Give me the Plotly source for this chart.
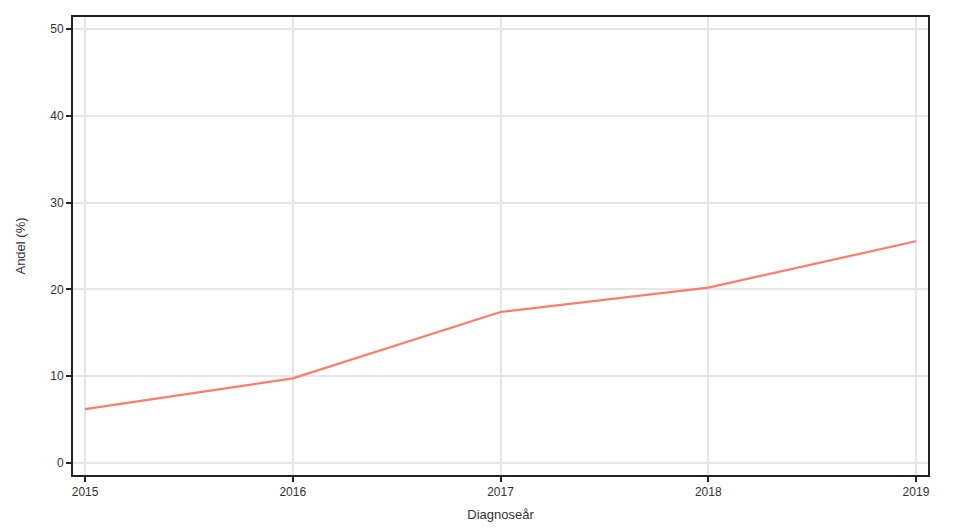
import plotly.graph_objects as go

years = [2015, 2016, 2017, 2018, 2019]
andel = [6.2, 9.75, 17.4, 20.2, 25.55]
y_ticks = [0, 10, 20, 30, 40, 50]

fig = go.Figure()
fig.add_trace(go.Scatter(x=years, y=andel, mode="lines",
                         line=dict(color="#FF7A6A", width=2.2), showlegend=False))

axis_common = dict(showline=True, linecolor="#222222", linewidth=2, mirror=True,
                   ticks="outside", ticklen=5, tickwidth=1.5, tickcolor="#222222",
                   showgrid=True, gridcolor="#E6E6E6", gridwidth=1.5, zeroline=False,
                   tickfont=dict(family="Liberation Sans, Arial, sans-serif", size=12, color="#333333"))

fig.update_xaxes(range=[2014.942, 2019.058], tickvals=years,
                 title=dict(text="Diagnoseår", standoff=11,
                            font=dict(family="Liberation Sans, Arial, sans-serif", size=13, color="#333333")),
                 **axis_common)
fig.update_yaxes(range=[-1.38, 51.38], tickvals=y_ticks,
                 title=dict(text="Andel (%)", standoff=22,
                            font=dict(family="Liberation Sans, Arial, sans-serif", size=13, color="#333333")),
                 **axis_common)

fig.update_layout(width=960, height=528, margin=dict(l=65, r=40, t=7, b=61),
                  plot_bgcolor="white", paper_bgcolor="white")

fig.write_html("out.html")
